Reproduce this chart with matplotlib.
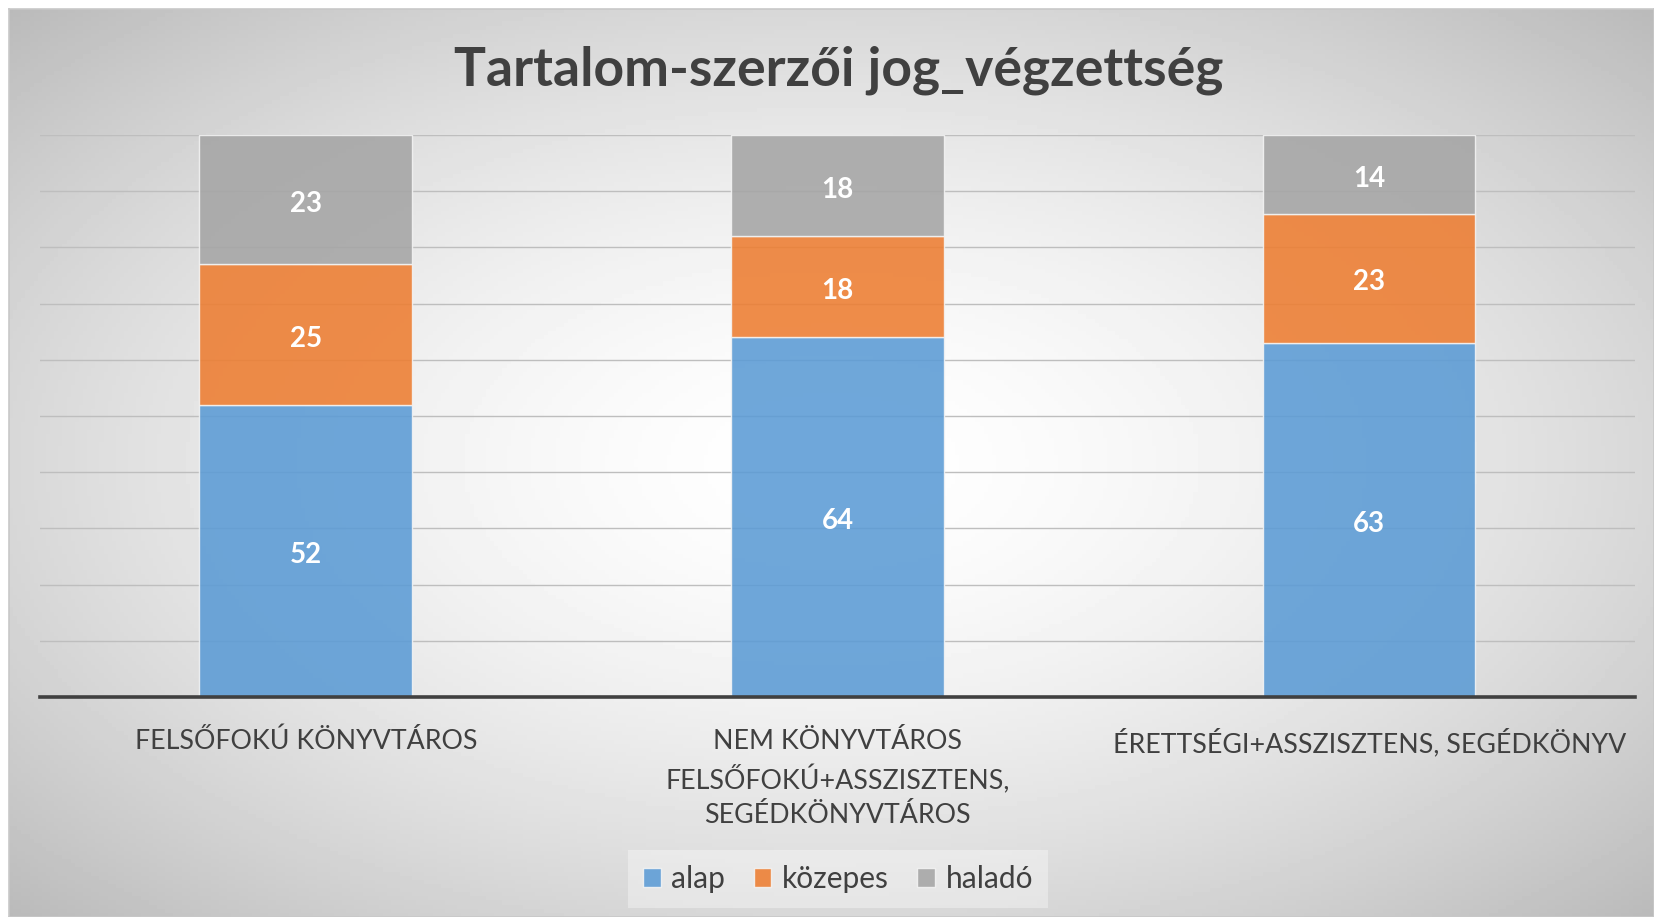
import numpy as np
import matplotlib.pyplot as plt

categories = ['FELSŐFOKÚ KÖNYVTÁROS',
              'NEM KÖNYVTÁROS\nFELSŐFOKÚ+ASSZISZTENS,\nSEGÉDKÖNYVTÁROS',
              'ÉRETTSÉGI+ASSZISZTENS, SEGÉDKÖNYV']
series = ['alap', 'közepes', 'haladó']
alap = [52, 64, 63]
kozepes = [25, 18, 23]
halado = [23, 18, 14]
colors = ['#5B9BD5', '#ED7D31', '#A5A5A5']

plt.rcParams['font.family'] = ['Lato', 'DejaVu Sans']
text_col = '#404040'

W, H = 1654, 917
fig = plt.figure(figsize=(W / 100, H / 100), dpi=100)

# background panel with radial gradient
bg = fig.add_axes([9 / W, 0, 1 - 9 / W, 1 - 9 / H])
nx, ny = 400, 220
xx, yy = np.meshgrid(np.linspace(-1, 1, nx), np.linspace(-1, 1, ny))
d = np.sqrt(xx ** 2 + yy ** 2) / np.sqrt(2)
shade = 1 - 0.27 * np.clip(d, 0, 1) ** 1.6
bg.imshow(shade, cmap='gray', vmin=0, vmax=1, aspect='auto', extent=[0, 1, 0, 1])
bg.set_xticks([])
bg.set_yticks([])
for s in bg.spines.values():
    s.set_color('#C8C8C8')
    s.set_linewidth(1.2)
bg.set_zorder(-5)

ax = fig.add_axes([40 / W, 1 - 697 / H, 1595 / W, 562 / H])
ax.patch.set_alpha(0)
x = np.arange(len(categories))
bottom = np.zeros(len(categories))
for name, vals, c in zip(series, [alap, kozepes, halado], colors):
    bars = ax.bar(x, vals, 0.4, bottom=bottom, color=c, alpha=0.88,
                  edgecolor='#F4F4F4', linewidth=1.0, label=name, zorder=3)
    ax.bar_label(bars, label_type='center', color='white', fontsize=20,
                 fontweight='bold', padding=-3)
    bottom += np.array(vals)

ax.set_xlim(-0.5, 2.5)
ax.set_ylim(0, 100)
ax.set_yticks(np.arange(0, 101, 10))
ax.set_yticklabels([])
ax.yaxis.grid(True, color='#BEBEBE', linewidth=1.0, zorder=0)
ax.set_axisbelow(True)
ax.tick_params(axis='y', length=0)
ax.set_xticks(x)
ax.set_xticklabels(categories, fontsize=19.3, color=text_col, linespacing=1.45)
ax.tick_params(axis='x', length=0, pad=23)
for side in ['left', 'right', 'top']:
    ax.spines[side].set_visible(False)
ax.spines['bottom'].set_color(text_col)
ax.spines['bottom'].set_linewidth(2.6)
ax.spines['bottom'].set_zorder(5)

fig.text(0.507, 1 - 70 / H, 'Tartalom-szerzői jog_végzettség', ha='center',
         va='center', fontsize=38.5, fontweight='bold', color=text_col)

leg = fig.legend(loc='center', bbox_to_anchor=(838 / W, 1 - 879 / H), ncol=3,
                 fontsize=21.5, frameon=True, handlelength=0.6, handleheight=0.6,
                 handletextpad=0.35, columnspacing=0.95, labelcolor=text_col,
                 borderpad=0.5)
leg.get_frame().set_facecolor('white')
leg.get_frame().set_alpha(0.35)
leg.get_frame().set_edgecolor('none')
leg.get_frame().set_boxstyle('square', pad=0)

fig.savefig('out.png', dpi=100)
